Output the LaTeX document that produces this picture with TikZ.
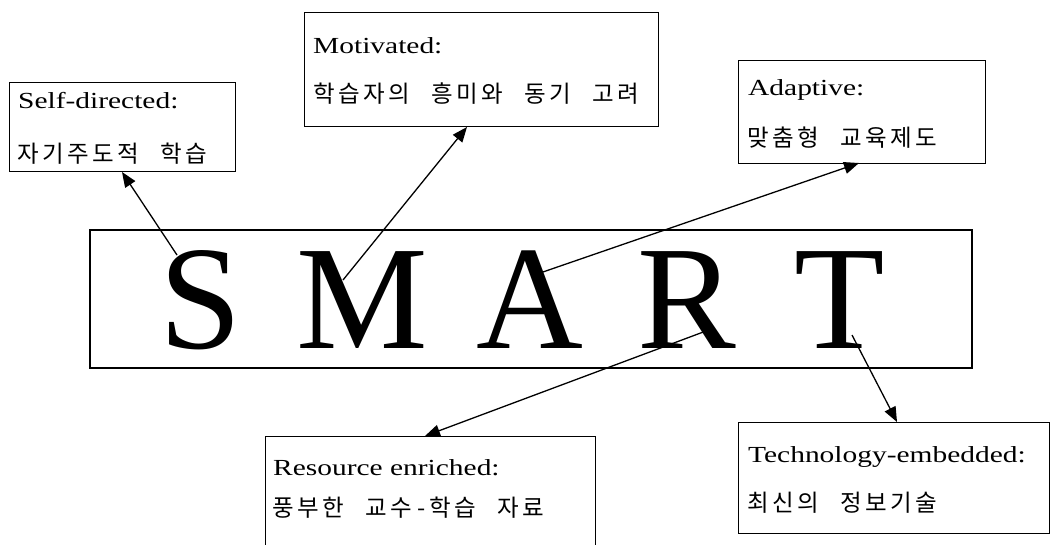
\documentclass[tikz,border=0pt]{standalone}
\usepackage{fontspec}
\setmainfont{Liberation Serif}
\newfontfamily\lblfont[FakeStretch=1.28]{Liberation Serif}
\newfontfamily\krfont{Noto Sans CJK KR}
\usetikzlibrary{arrows.meta}
% each Korean syllable in a fixed-width cell, as in the reference
\newcommand{\krw}[1]{\krloop#1\relax}
\def\krloop#1{\ifx\relax#1\else\makebox[25pt]{#1}\expandafter\krloop\fi}
\newcommand{\krsp}{\hspace{18pt}}
\begin{document}
\begin{tikzpicture}[x=1pt,y=-1pt,
  box/.style={draw, line width=1.1pt, inner sep=0pt, anchor=north west},
  lbl/.style={anchor=base west, inner sep=0pt, font=\lblfont\fontsize{23}{23}\selectfont},
  kr/.style={anchor=base west, inner sep=0pt, font=\krfont\fontsize{23.5}{23.5}\selectfont},
  letter/.style={anchor=base, inner sep=0pt, font=\fontsize{148}{148}\selectfont},
  arr/.style={line width=1.3pt, -{Triangle[length=15pt,width=12pt]}}]
\useasboundingbox (0,0) rectangle (1052,544);
% boxes
\node[box, minimum width=226pt, minimum height=89pt] (self) at (9,82) {};
\node[box, minimum width=354pt, minimum height=114pt] (moti) at (304,12) {};
\node[box, minimum width=247pt, minimum height=103pt] (adap) at (738,60) {};
\node[box, line width=1.6pt, minimum width=882pt, minimum height=138pt] (smart) at (89,229) {};
\node[box, minimum width=330pt, minimum height=115pt] (reso) at (265,436) {};
\node[box, minimum width=311pt, minimum height=111pt] (tech) at (738,422) {};
% texts
\node[lbl] (selft) at (18,108) {Self-directed:};
\node[kr] (selfk) at (16,162) {\krw{자기주도적}\krsp\krw{학습}};
\node[lbl] (motit) at (313,53) {Motivated:};
\node[kr] (motik) at (312,102) {\krw{학습자의}\krsp\krw{흥미와}\krsp\krw{동기}\krsp\krw{고려}};
\node[lbl] (adapt) at (748,95) {Adaptive:};
\node[kr] (adapk) at (746,146) {\krw{맞춤형}\krsp\krw{교육제도}};
\node[lbl] (resot) at (273,475) {Resource enriched:};
\node[kr] (resok) at (271,516) {\krw{풍부한}\krsp\krw{교수}\makebox[14pt]{-}\krw{학습}\krsp\krw{자료}};
\node[lbl] (techt) at (748,462) {Technology-embedded:};
\node[kr] (techk) at (746,511) {\krw{최신의}\krsp\krw{정보기술}};
% letters
\node[letter] (S) at (201,348) {S};
\node[letter] (M) at (362,348) {M};
\node[letter] (A) at (530,348) {A};
\node[letter] (R) at (687,348) {R};
\node[letter] (T) at (840,348) {T};
% connector ends
\coordinate (sS) at (177,255);
\coordinate (sM) at (343,280);
\coordinate (sA) at (540,273);
\coordinate (sR) at (714,328);
\coordinate (sT) at (852,335);
\coordinate (eS) at (122,172);
\coordinate (eM) at (467,127);
\coordinate (eA) at (859,163);
\coordinate (eR) at (425,436);
\coordinate (eT) at (897,422);
\draw[arr] (sS) -- (eS);
\draw[arr] (sM) -- (eM);
\draw[arr] (sA) -- (eA);
\draw[arr] (sR) -- (eR);
\draw[arr] (sT) -- (eT);
\end{tikzpicture}
\end{document}
